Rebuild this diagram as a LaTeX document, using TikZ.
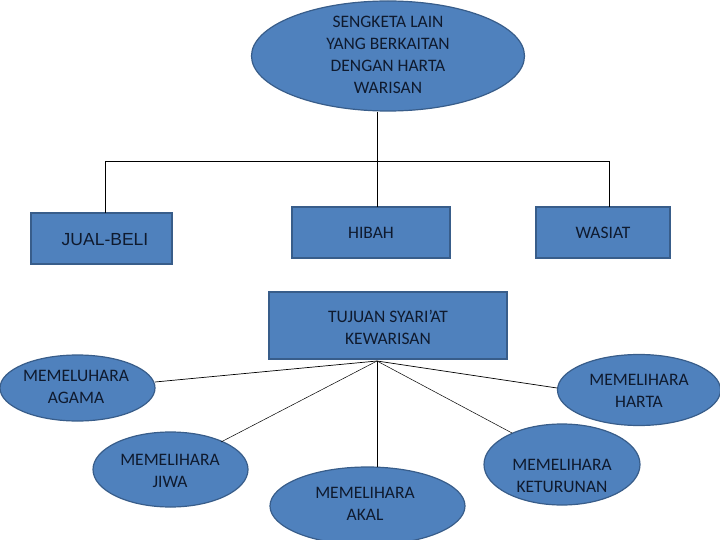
\documentclass[tikz,border=0pt]{standalone}
\usepackage{fontspec}
\setmainfont{Carlito}
\newfontfamily\arialf{Liberation Sans}
\usetikzlibrary{shapes.geometric}
\definecolor{ofill}{HTML}{4F81BD}
\definecolor{oline}{HTML}{385D8A}
\definecolor{otext}{HTML}{0F1A2E}
\begin{document}
\begin{tikzpicture}[x=1pt,y=-1pt,
  blob/.style={ellipse,draw=oline,fill=ofill,line width=1.2pt,inner sep=0pt},
  rbox/.style={rectangle,draw=oline,fill=ofill,line width=1.2pt,inner sep=0pt},
  txt/.style={align=center,text=otext,font=\fontsize{17.5}{22}\selectfont},
  link/.style={draw=black,line width=0.7pt}]
\useasboundingbox (0,0) rectangle (720,540);
% top ellipse
\node[blob,minimum width=273,minimum height=110] (top) at (388,56) {};
\node[txt] (toptxt) at (388,55) {SENGKETA LAIN\\YANG BERKAITAN\\DENGAN HARTA\\WARISAN};
% boxes
\node[rbox,minimum width=141,minimum height=51] (jual) at (101.5,238.5) {};
\node[text=otext,font=\arialf\fontsize{17.5}{20}\selectfont] (jualtxt) at (105,240) {JUAL-BELI};
\node[rbox,minimum width=158,minimum height=51] (hibah) at (371,232.5) {};
\node[txt] (hibahtxt) at (371,233) {HIBAH};
\node[rbox,minimum width=134,minimum height=51] (wasiat) at (603,232.5) {};
\node[txt] (wasiattxt) at (603,233) {WASIAT};
% tree connectors
\coordinate (jtop) at (105,213);
\coordinate (wtop) at (609,207);
\coordinate (hl) at (105,161);
\coordinate (hr) at (609,161);
\coordinate (vtop) at (377,112);
\coordinate (vbot) at (377,207);
\draw[link] (vtop) -- (vbot);
\draw[link] (jtop) -- (hl) -- (hr) -- (wtop);
% tujuan box
\node[rbox,minimum width=238,minimum height=67] (tujuan) at (388,325.5) {};
\node[txt] (tujuantxt) at (388,327) {TUJUAN SYARI'AT\\KEWARISAN};
% lower ellipses
\node[blob,minimum width=155,minimum height=66] (agama) at (77.5,388) {};
\node[txt] (agamatxt) at (76,387) {MEMELUHARA\\AGAMA};
\node[blob,minimum width=163,minimum height=71] (harta) at (639,390) {};
\node[txt] (hartatxt) at (639,391) {MEMELIHARA\\HARTA};
\node[blob,minimum width=155,minimum height=75] (jiwa) at (170.5,469.5) {};
\node[txt] (jiwatxt) at (170,471) {MEMELIHARA\\JIWA};
\node[blob,minimum width=195,minimum height=78] (akal) at (367.5,506) {};
\node[txt] (akaltxt) at (365,504) {MEMELIHARA\\AKAL};
\node[blob,minimum width=156,minimum height=81] (ketur) at (562,464.5) {};
\node[txt] (keturtxt) at (562,476) {MEMELIHARA\\KETURUNAN};
% hub connectors
\coordinate (hub) at (377,361);
\coordinate (eagama) at (155,382);
\coordinate (eharta) at (557,388);
\coordinate (ejiwa) at (221,442);
\coordinate (eakal) at (377,467);
\coordinate (eketur) at (512,433);
\draw[link] (hub) -- (eagama);
\draw[link] (hub) -- (eharta);
\draw[link,line width=0.5pt] (hub) -- (ejiwa);
\draw[link] (hub) -- (eakal);
\draw[link,line width=0.5pt] (hub) -- (eketur);
\end{tikzpicture}
\end{document}
